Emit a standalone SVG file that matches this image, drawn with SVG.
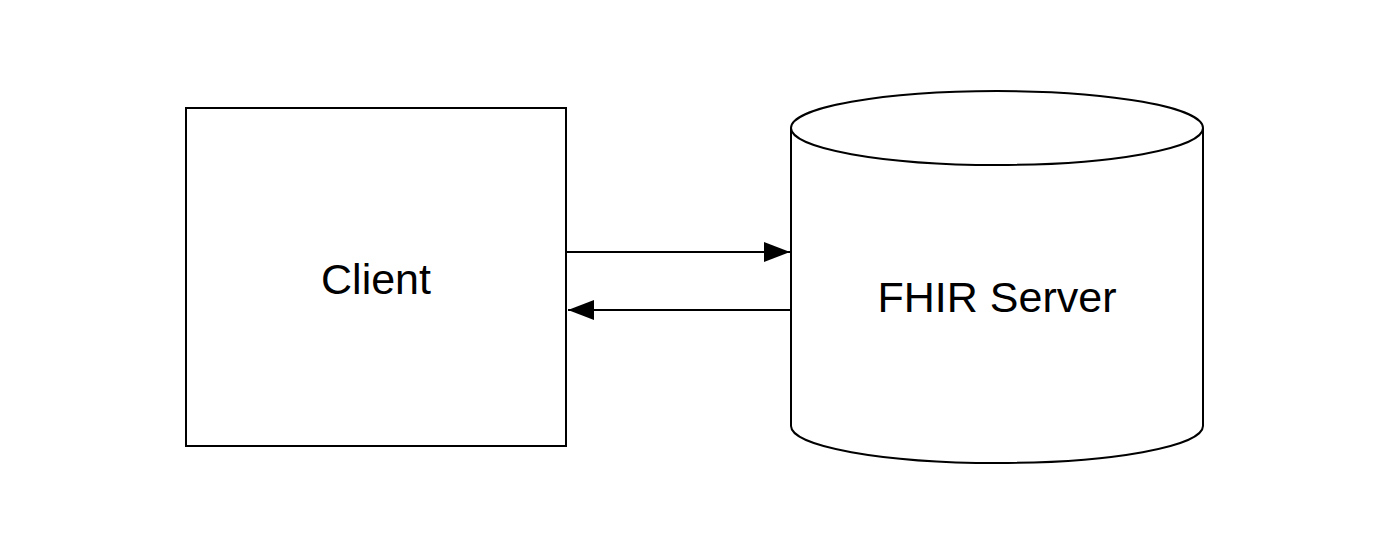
<svg xmlns="http://www.w3.org/2000/svg" width="1388" height="555" viewBox="0 0 1388 555">
<style>
.shape{fill:#fff;stroke:#000;stroke-width:2}
.lbl{font-family:"Liberation Sans",Arial,sans-serif;font-size:43px;fill:#000;text-anchor:middle}
.conn{stroke:#000;stroke-width:2;fill:none}
</style>
<defs>
<marker id="arr" markerUnits="userSpaceOnUse" markerWidth="28" markerHeight="22" refX="26" refY="11" orient="auto">
<path d="M0,1 L26,11 L0,21 Z" fill="#000"/>
</marker>
</defs>
<rect width="1388" height="555" fill="#fff"/>
<g id="client">
<rect class="shape" x="186" y="108" width="380" height="338"/>
<text class="lbl" x="376" y="294">Client</text>
</g>
<g id="fhir-server">
<path class="shape" d="M791,128 A206,37 0 0 1 1203,128 L1203,426 A206,37 0 0 1 791,426 Z"/>
<path class="shape" fill="none" d="M791,128 A206,37 0 0 0 1203,128"/>
<text class="lbl" x="997" y="312">FHIR Server</text>
</g>
<g id="connectors">
<line class="conn" x1="566" y1="252" x2="790" y2="252" marker-end="url(#arr)"/>
<line class="conn" x1="791" y1="310" x2="568" y2="310" marker-end="url(#arr)"/>
</g>
</svg>
